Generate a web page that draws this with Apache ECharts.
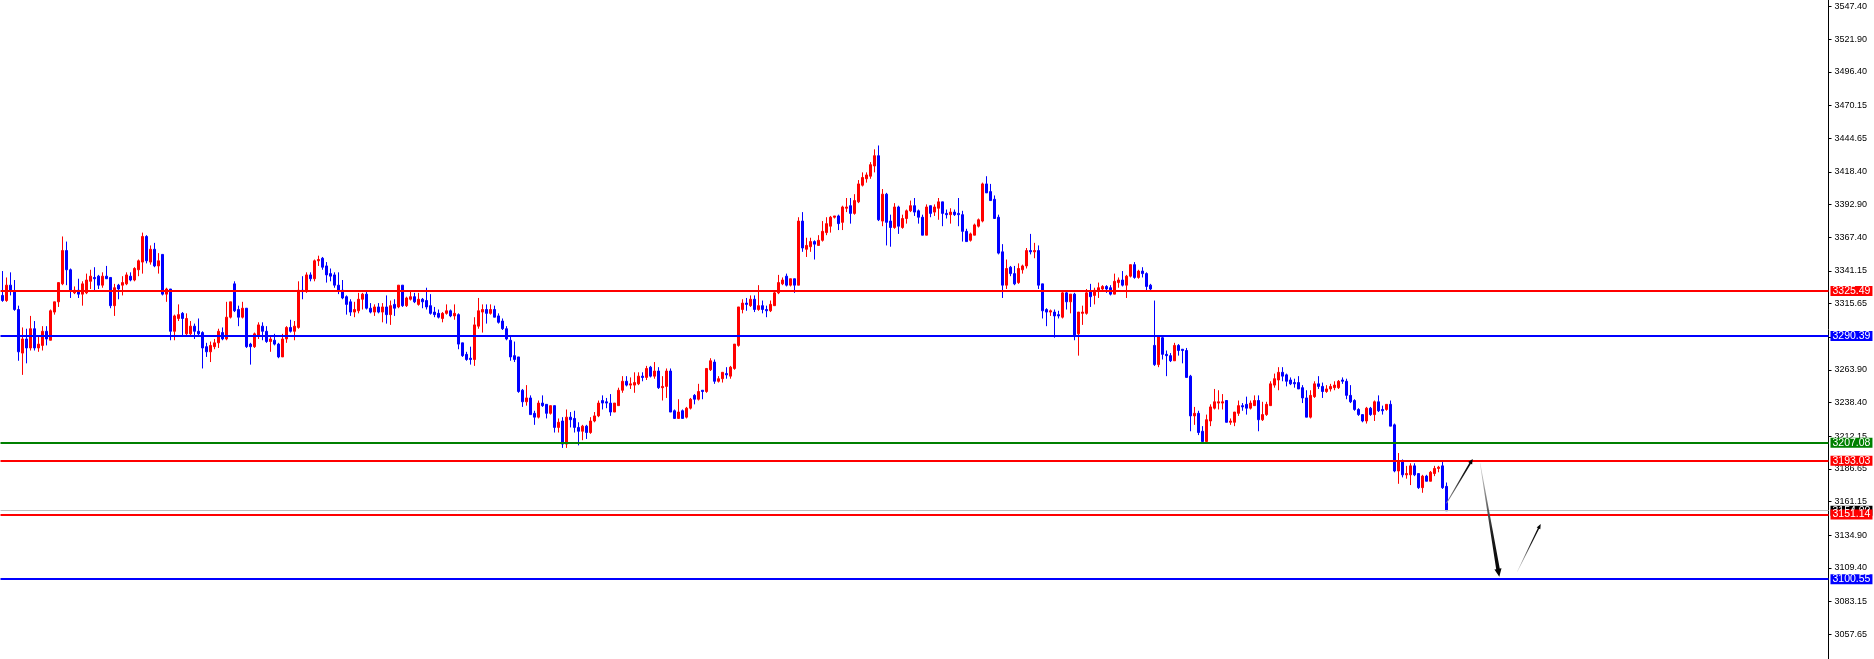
<!DOCTYPE html>
<html><head><meta charset="utf-8">
<script src="https://cdn.jsdelivr.net/npm/echarts@6/dist/echarts.min.js"></script>
<style>html,body{margin:0;padding:0;background:#fff;overflow:hidden}#c{width:1874px;height:659px}</style>
</head><body><div id="c"></div>
<script>
// candles: [open, close, low, high]
const ohlc = [
[3322,3318,3317,3341],[3318,3330,3317,3336],[3330,3325,3322,3340],[3325,3311,3310,3334],[3311,3278,3271,3314],
[3277,3288,3260,3297],[3288,3281,3269,3296],[3281,3296,3279,3306],[3296,3281,3279,3302],[3281,3284,3278,3291],
[3283,3294,3279,3298],[3294,3288,3283,3298],[3287,3310,3287,3311],[3309,3317,3307,3317],[3317,3332,3313,3332],
[3331,3357,3330,3368],[3357,3342,3330,3364],[3342,3326,3320,3343],[3324,3326,3323,3329],[3326,3323,3320,3335],
[3323,3331,3314,3333],[3324,3334,3323,3339],[3333,3337,3327,3342],[3336,3335,3325,3344],[3337,3330,3327,3338],
[3330,3337,3328,3340],[3337,3335,3335,3345],[3336,3314,3312,3336],[3314,3328,3306,3331],[3330,3327,3319,3331],
[3330,3332,3322,3337],[3331,3338,3330,3340],[3337,3334,3333,3340],[3334,3343,3333,3344],[3342,3349,3337,3350],
[3348,3368,3339,3371],[3368,3349,3347,3369],[3348,3358,3346,3361],[3358,3345,3344,3363],[3345,3349,3339,3355],
[3354,3323,3322,3354],[3323,3327,3317,3328],[3327,3294,3287,3327],[3294,3306,3287,3307],[3304,3307,3302,3315],
[3308,3304,3291,3309],[3292,3304,3291,3308],[3292,3298,3291,3302],[3298,3294,3288,3300],[3294,3292,3291,3304],
[3293,3281,3265,3294],[3282,3278,3274,3285],[3278,3283,3270,3286],[3282,3285,3280,3288],[3285,3294,3281,3296],
[3293,3288,3287,3297],[3288,3305,3287,3317],[3305,3317,3304,3317],[3331,3310,3309,3333],[3311,3305,3298,3314],
[3305,3312,3304,3317],[3312,3282,3281,3312],[3284,3282,3268,3285],[3282,3292,3281,3293],[3291,3299,3288,3301],
[3298,3294,3287,3301],[3294,3286,3285,3298],[3286,3288,3278,3291],[3287,3284,3283,3292],[3284,3274,3273,3285],
[3274,3288,3274,3292],[3288,3297,3285,3298],[3297,3294,3293,3303],[3294,3298,3287,3302],[3297,3326,3296,3333],
[3326,3325,3319,3337],[3325,3338,3324,3340],[3338,3335,3333,3340],[3335,3349,3333,3350],[3349,3350,3345,3353],
[3351,3344,3342,3352],[3345,3338,3332,3348],[3339,3337,3333,3343],[3338,3330,3328,3340],[3330,3326,3323,3340],
[3326,3320,3319,3334],[3321,3315,3307,3322],[3317,3309,3306,3319],[3309,3311,3305,3317],[3310,3319,3308,3324],
[3319,3323,3311,3324],[3323,3312,3311,3326],[3312,3309,3308,3316],[3309,3313,3306,3315],[3313,3309,3308,3316],
[3309,3313,3301,3316],[3313,3307,3300,3322],[3307,3314,3299,3318],[3315,3312,3306,3319],[3313,3330,3312,3330],
[3330,3314,3313,3330],[3314,3320,3313,3321],[3319,3321,3318,3325],[3321,3317,3316,3324],[3315,3319,3314,3324],
[3319,3317,3312,3320],[3318,3313,3311,3328],[3314,3308,3307,3323],[3309,3307,3305,3313],[3308,3305,3304,3311],
[3304,3308,3301,3309],[3308,3310,3307,3315],[3310,3306,3305,3311],[3306,3308,3303,3315],[3307,3284,3280,3308],
[3285,3275,3274,3285],[3276,3272,3271,3278],[3273,3272,3268,3282],[3272,3299,3267,3305],[3298,3310,3296,3320],
[3309,3311,3293,3315],[3311,3308,3300,3315],[3308,3311,3307,3315],[3311,3305,3305,3314],[3306,3301,3300,3308],
[3302,3296,3295,3304],[3296,3288,3287,3298],[3287,3274,3271,3291],[3275,3272,3270,3286],[3274,3247,3246,3274],
[3248,3239,3235,3249],[3239,3242,3236,3252],[3242,3229,3229,3244],[3230,3227,3221,3232],[3227,3238,3226,3240],
[3238,3236,3235,3244],[3237,3230,3226,3237],[3230,3236,3229,3236],[3236,3219,3215,3236],[3219,3223,3215,3226],
[3224,3206,3203,3227],[3206,3227,3203,3233],[3227,3225,3219,3231],[3226,3219,3215,3232],[3219,3216,3205,3223],
[3216,3220,3209,3221],[3220,3215,3210,3221],[3215,3224,3214,3227],[3224,3228,3223,3231],[3228,3238,3227,3240],
[3240,3238,3233,3244],[3239,3238,3234,3242],[3238,3231,3228,3245],[3231,3238,3231,3238],[3236,3248,3236,3250],
[3248,3255,3246,3259],[3255,3252,3251,3259],[3252,3253,3249,3258],[3252,3254,3246,3262],[3253,3259,3252,3262],
[3259,3258,3255,3262],[3258,3265,3256,3267],[3266,3259,3258,3267],[3259,3263,3257,3270],[3263,3250,3249,3266],
[3250,3251,3240,3259],[3251,3263,3242,3265],[3263,3231,3231,3265],[3232,3226,3226,3233],[3226,3231,3226,3241],
[3232,3226,3226,3233],[3227,3234,3226,3235],[3234,3241,3233,3242],[3244,3241,3237,3245],[3241,3247,3240,3253],
[3248,3247,3241,3248],[3247,3265,3246,3265],[3264,3271,3263,3273],[3270,3255,3253,3272],[3255,3257,3254,3259],
[3257,3262,3254,3262],[3261,3260,3257,3266],[3259,3266,3257,3267],[3265,3284,3264,3284],[3283,3313,3282,3313],
[3311,3316,3308,3319],[3316,3315,3310,3320],[3314,3319,3313,3322],[3319,3311,3309,3322],[3311,3314,3310,3330],
[3314,3311,3308,3318],[3311,3310,3305,3314],[3310,3315,3309,3318],[3314,3324,3314,3325],[3324,3332,3323,3338],
[3331,3334,3330,3336],[3337,3330,3329,3339],[3330,3335,3329,3335],[3335,3330,3324,3335],[3330,3380,3330,3383],
[3380,3359,3356,3387],[3358,3361,3352,3367],[3360,3364,3356,3367],[3364,3362,3350,3365],[3361,3365,3361,3369],
[3365,3372,3364,3380],[3371,3378,3369,3383],[3376,3383,3371,3384],[3383,3384,3382,3384],[3384,3378,3373,3385],
[3379,3391,3373,3392],[3390,3391,3387,3398],[3392,3386,3378,3398],[3386,3396,3385,3401],[3395,3409,3394,3412],
[3408,3414,3407,3418],[3413,3416,3410,3418],[3415,3424,3413,3426],[3423,3431,3418,3436],[3431,3381,3380,3439],
[3380,3401,3376,3405],[3401,3379,3361,3402],[3380,3375,3360,3385],[3375,3391,3374,3394],[3391,3376,3370,3392],
[3375,3382,3374,3385],[3382,3388,3378,3389],[3388,3392,3387,3396],[3392,3387,3384,3398],[3388,3383,3378,3389],
[3383,3369,3369,3385],[3369,3391,3369,3393],[3392,3386,3383,3392],[3387,3391,3384,3393],[3390,3395,3381,3398],
[3395,3386,3376,3395],[3386,3385,3382,3389],[3385,3387,3378,3390],[3387,3385,3384,3389],[3386,3385,3376,3398],
[3385,3372,3364,3388],[3372,3364,3364,3374],[3365,3370,3364,3371],[3369,3377,3369,3378],[3376,3381,3375,3382],
[3380,3409,3379,3410],[3409,3402,3402,3415],[3403,3396,3396,3409],[3397,3382,3382,3400],[3383,3355,3354,3385],
[3356,3330,3320,3362],[3330,3343,3327,3350],[3344,3339,3337,3345],[3339,3331,3330,3345],[3332,3343,3331,3347],
[3342,3345,3339,3346],[3345,3357,3343,3359],[3357,3356,3354,3370],[3356,3357,3351,3363],[3357,3330,3327,3361],
[3331,3310,3304,3331],[3311,3309,3298,3312],[3309,3310,3306,3311],[3309,3306,3289,3311],[3307,3306,3304,3310],
[3305,3324,3304,3325],[3324,3317,3311,3325],[3317,3323,3308,3323],[3323,3291,3287,3324],[3292,3309,3275,3309],
[3308,3309,3299,3314],[3308,3324,3307,3327],[3325,3321,3313,3331],[3322,3326,3315,3328],[3325,3328,3320,3332],
[3327,3329,3325,3330],[3329,3327,3324,3330],[3328,3323,3322,3330],[3323,3333,3323,3339],[3332,3334,3328,3336],
[3334,3330,3329,3341],[3330,3337,3320,3338],[3337,3346,3336,3346],[3346,3336,3335,3348],[3336,3341,3335,3342],
[3341,3339,3336,3344],[3339,3329,3325,3340],[3330,3327,3325,3331],[3283,3268,3267,3318],[3268,3290,3266,3291],
[3289,3276,3272,3290],[3276,3275,3259,3279],[3275,3271,3270,3277],[3271,3283,3271,3285],[3283,3279,3275,3284],
[3280,3279,3269,3280],[3279,3258,3258,3281],[3259,3228,3216,3260],[3228,3230,3221,3235],[3230,3215,3213,3232],
[3216,3208,3207,3220],[3208,3225,3207,3229],[3224,3235,3220,3237],[3234,3239,3233,3249],[3238,3239,3233,3248],
[3238,3239,3233,3245],[3240,3223,3223,3240],[3223,3224,3221,3226],[3223,3231,3220,3231],[3230,3236,3228,3240],
[3236,3235,3232,3238],[3237,3234,3229,3243],[3234,3238,3233,3240],[3236,3240,3236,3244],[3240,3225,3216,3244],
[3225,3229,3224,3239],[3229,3237,3228,3239],[3236,3253,3236,3255],[3252,3257,3250,3261],[3256,3262,3248,3266],
[3262,3259,3255,3266],[3260,3255,3251,3261],[3256,3253,3252,3258],[3254,3253,3250,3257],[3254,3249,3249,3259],
[3250,3242,3238,3252],[3242,3227,3227,3248],[3227,3244,3226,3248],[3243,3253,3242,3255],[3253,3251,3249,3259],
[3251,3247,3242,3254],[3247,3249,3246,3252],[3249,3251,3247,3253],[3250,3252,3248,3255],[3250,3255,3249,3256],
[3256,3255,3253,3258],[3255,3244,3241,3257],[3244,3239,3238,3252],[3240,3233,3232,3241],[3233,3229,3228,3234],
[3229,3224,3223,3229],[3224,3234,3222,3235],[3234,3229,3228,3235],[3229,3239,3224,3240],[3239,3232,3231,3244],
[3233,3232,3229,3236],[3233,3237,3232,3237],[3237,3220,3220,3240],[3221,3185,3184,3222],[3185,3192,3175,3199],
[3192,3182,3180,3194],[3182,3183,3179,3189],[3182,3189,3174,3191],[3189,3182,3181,3191],[3183,3172,3171,3183],
[3172,3181,3168,3182],[3181,3177,3177,3182],[3177,3184,3177,3185],[3183,3187,3181,3189],[3187,3188,3184,3189],
[3189,3172,3171,3193],[3173,3154,3154,3176]
];
const totalBars = 457;                 // visible bar slots incl. empty future area
const tickValues = [3547.40,3521.90,3496.40,3470.15,3444.65,3418.40,3392.90,3367.40,3341.15,3315.65,
  3289.40,3263.90,3238.40,3212.15,3186.65,3161.15,3134.90,3109.40,3083.15,3057.65];
const bidPrice = 3154.00;
const levelPrices = [3325.49,3290.39,3207.08,3193.03,3151.14,3100.55];
const levelKinds = ['red','blue','green','red','red','blue'];
// arrows: [fromBar, fromPrice, toBar, toPrice]
const arrows = [[361.0,3159.8,367.55,3194.4],[369.4,3191.0,374.2,3102.5],[378.7,3106.4,384.55,3143.7]];

const palette = {red:'#FF0000', blue:'#0000FF', green:'#008000'};
const arrowStyles = [
  {w0:0.8, w1:1.7, head:5, hw:2.3, c0:'#9a9a9a'},
  {w0:0.5, w1:3.6, head:8, hw:3.6, c0:'#e0e0e0'},
  {w0:0.5, w1:1.4, head:5, hw:2.0, c0:'#e6e6e6'}
];
const categories = Array.from({length: totalBars}, (_, i) => String(i));
const FONT = 'Liberation Sans';

function tag(price, bg, lineColor, width) {
  return {
    yAxis: price,
    lineStyle: {color: lineColor, width: width, type: 'solid'},
    label: {show: true, position: 'end', distance: 2, formatter: price.toFixed(2),
      backgroundColor: bg, color: '#fff', fontSize: 10.5, fontFamily: FONT,
      padding: [0, 2, 0, 2], lineHeight: 10}
  };
}
const markData = [tag(bidPrice, '#000000', '#C0C0C0', 1)]
  .concat(levelPrices.map((p, i) => tag(p, palette[levelKinds[i]], palette[levelKinds[i]], 2)));

const chart = echarts.init(document.getElementById('c'), null, {renderer: 'canvas'});
chart.setOption({
  animation: false,
  backgroundColor: '#ffffff',
  grid: {left: 0.5, right: 45.5, top: 0, bottom: 0, containLabel: false},
  xAxis: [
    {type: 'category', data: categories, show: false, boundaryGap: true, axisLine: {onZero: false}},
    {type: 'value', min: -0.5, max: totalBars - 0.5, show: false, axisLine: {onZero: false}}
  ],
  yAxis: {
    type: 'value', position: 'right', min: 3038.3, max: 3552.5, splitLine: {show: false},
    axisLine: {show: true, onZero: false, lineStyle: {color: '#000', width: 1}},
    axisTick: {show: true, length: 3, customValues: tickValues, lineStyle: {color: '#000'}},
    axisLabel: {customValues: tickValues, formatter: v => v.toFixed(2), color: '#000',
      fontSize: 9, fontFamily: FONT, margin: 6}
  },
  series: [
    {
      type: 'candlestick', data: ohlc, barWidth: 2, xAxisIndex: 0, yAxisIndex: 0,
      itemStyle: {color: '#FF0000', color0: '#0000FF', borderColor: '#FF0000', borderColor0: '#0000FF',
        borderColorDoji: '#0000FF', borderWidth: 1},
      emphasis: {disabled: true}
    },
    {
      type: 'line', data: [], xAxisIndex: 0, yAxisIndex: 0, clip: false, z: 5,
      markLine: {silent: true, symbol: ['none', 'none'], animation: false, data: markData}
    },
    {
      type: 'custom', xAxisIndex: 1, yAxisIndex: 0, data: arrows, z: 6, clip: false,
      renderItem: function (params, api) {
        const p0 = api.coord([api.value(0), api.value(1)]);
        const p1 = api.coord([api.value(2), api.value(3)]);
        const st = arrowStyles[params.dataIndex];
        const dx = p1[0] - p0[0], dy = p1[1] - p0[1], len = Math.hypot(dx, dy);
        const ux = dx / len, uy = dy / len, nx = -uy, ny = ux;
        const hb = [p1[0] - ux * st.head, p1[1] - uy * st.head];
        const pts = [
          [p0[0] + nx * st.w0 / 2, p0[1] + ny * st.w0 / 2],
          [hb[0] + nx * st.w1 / 2, hb[1] + ny * st.w1 / 2],
          [hb[0] + nx * st.hw, hb[1] + ny * st.hw],
          [p1[0], p1[1]],
          [hb[0] - nx * st.hw, hb[1] - ny * st.hw],
          [hb[0] - nx * st.w1 / 2, hb[1] - ny * st.w1 / 2],
          [p0[0] - nx * st.w0 / 2, p0[1] - ny * st.w0 / 2]
        ];
        return {
          type: 'polygon', shape: {points: pts},
          style: {fill: new echarts.graphic.LinearGradient(p0[0], p0[1], p1[0], p1[1],
            [{offset: 0, color: st.c0}, {offset: 0.6, color: '#202020'}, {offset: 1, color: '#000'}], true)}
        };
      }
    }
  ]
});
</script></body></html>
